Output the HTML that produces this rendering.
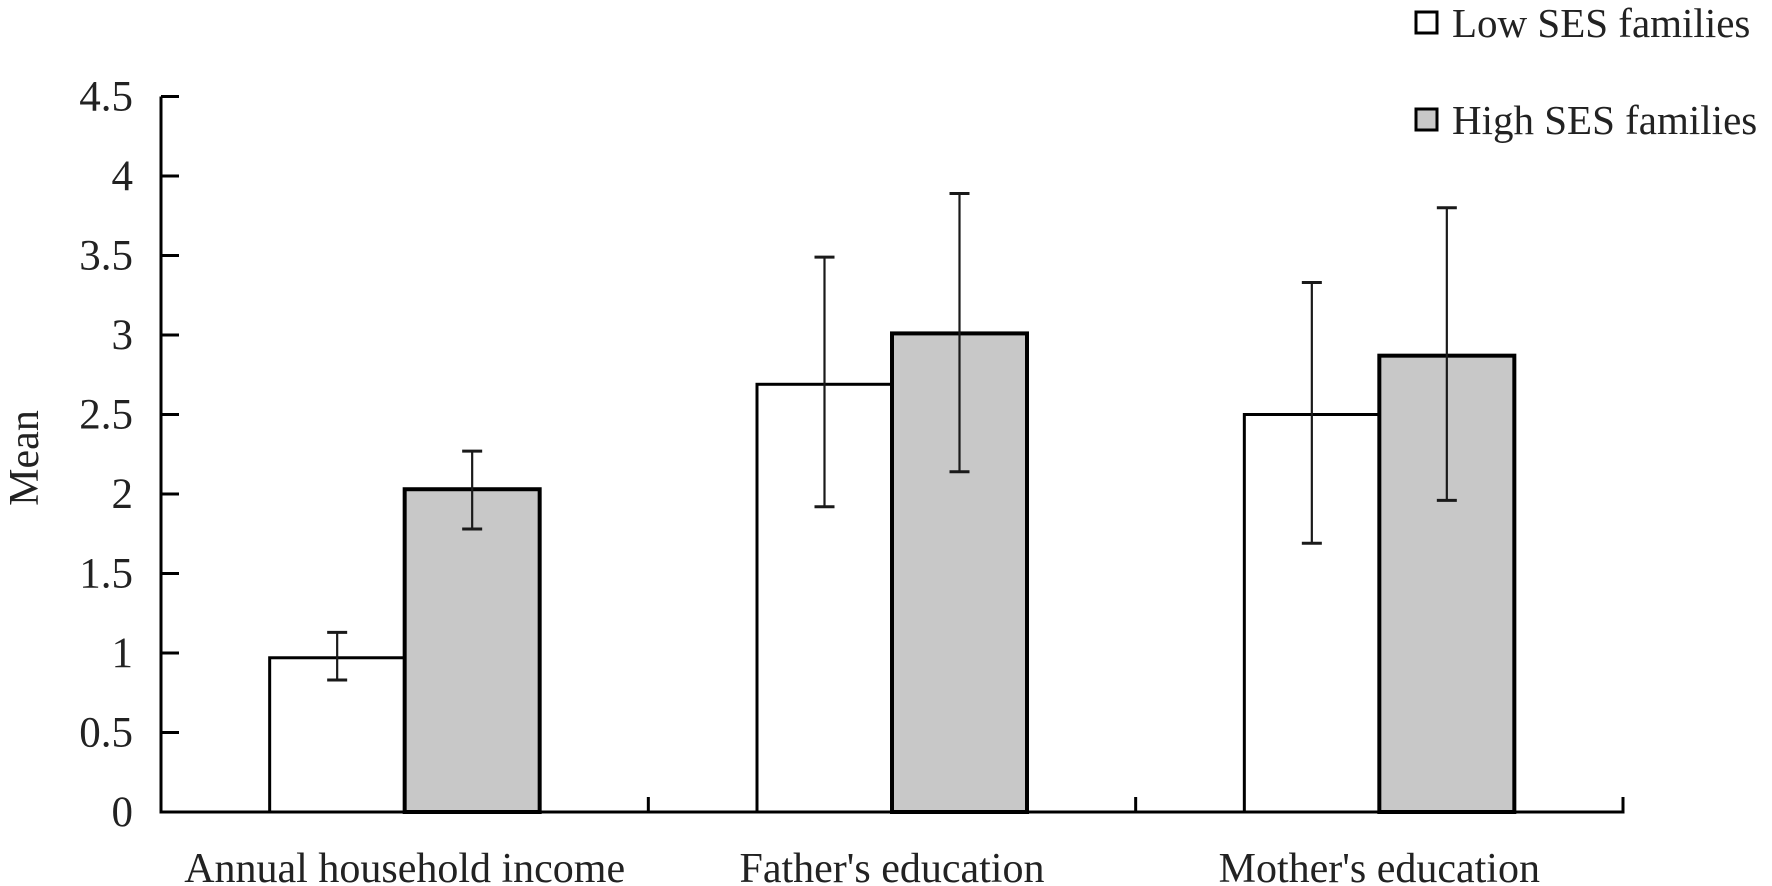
<!DOCTYPE html>
<html><head><meta charset="utf-8"><style>
html,body{margin:0;padding:0;background:#fff;}
svg{display:block;font-family:"Liberation Serif",serif;}
</style></head><body>
<svg id="chart" width="1772" height="886" viewBox="0 0 1772 886">
<g id="axes"></g><g id="bars"></g><g id="errs"></g>
<text transform="translate(38,458) rotate(-90)" text-anchor="middle" font-size="42" fill="#222">Mean</text>
<g>
 <rect x="1416" y="12" width="21" height="21" fill="#fff" stroke="#000" stroke-width="3"/>
 <text x="1452" y="37" font-size="41" fill="#222">Low SES families</text>
 <rect x="1416" y="109" width="21" height="21" fill="#c8c8c8" stroke="#000" stroke-width="3"/>
 <text x="1452" y="134" font-size="41" fill="#222">High SES families</text>
</g>
</svg>
<script>
const categories = ["Annual household income", "Father's education", "Mother's education"];
const lowValues = [0.97, 2.69, 2.50];
const highValues = [2.03, 3.01, 2.87];
const lowErrLow = [0.83, 1.92, 1.69];
const lowErrHigh = [1.13, 3.49, 3.33];
const highErrLow = [1.78, 2.14, 1.96];
const highErrHigh = [2.27, 3.89, 3.80];
const yTicks = [0, 0.5, 1, 1.5, 2, 2.5, 3, 3.5, 4, 4.5];
const yTickLabels = ["0", "0.5", "1", "1.5", "2", "2.5", "3", "3.5", "4", "4.5"];

const NS = "http://www.w3.org/2000/svg";
const X0 = 161, X1 = 1623, Y0 = 812, UNIT = 159;
const catW = (X1 - X0) / categories.length;
const barW = 135;
function y(v){ return Y0 - v * UNIT; }
function xc(i){ return X0 + catW * (i + 0.5); }
function mk(tag, attrs, parent){
  const e = document.createElementNS(NS, tag);
  for (const k in attrs) e.setAttribute(k, attrs[k]);
  parent.appendChild(e); return e;
}
const axes = document.getElementById('axes');
const bars = document.getElementById('bars');
const errs = document.getElementById('errs');

let yl = mk('line', {x1:X0, y1:y(4.5), x2:X0, y2:Y0+1.5, stroke:'#000', 'stroke-width':3}, axes);


let xl = mk('line', {x1:X0-1.5, y1:Y0, x2:X1+1.5, y2:Y0, stroke:'#000', 'stroke-width':3}, axes);



yTicks.forEach((t, i) => {
  const tk = mk('line', {x1:X0, y1:y(t), x2:X0+18, y2:y(t), stroke:'#000', 'stroke-width':3}, axes);
  
  
  const tl = mk('text', {x:133, y:y(t)+14, 'text-anchor':'end', 'font-size':43, fill:'#222'}, axes);
  tl.textContent = yTickLabels[i];
  
  
});
for (let i = 1; i <= categories.length; i++) {
  const xx = X0 + catW * i;
  const tk = mk('line', {x1:xx, y1:Y0, x2:xx, y2:Y0-15, stroke:'#000', 'stroke-width':3}, axes);
  
  
}
categories.forEach((c, i) => {
  const tl = mk('text', {x:xc(i), y:882, 'text-anchor':'middle', 'font-size':42, fill:'#222'}, axes);
  tl.textContent = c;
  
  

  const lb = mk('rect', {x:xc(i)-barW, y:y(lowValues[i]), width:barW, height:Y0-y(lowValues[i]), fill:'#fff', stroke:'#000', 'stroke-width':3}, bars);
  
  
  const hb = mk('rect', {x:xc(i), y:y(highValues[i]), width:barW, height:Y0-y(highValues[i]), fill:'#c8c8c8', stroke:'#000', 'stroke-width':4}, bars);
  
  

  [[xc(i)-barW/2, lowErrLow[i], lowErrHigh[i], 'low'], [xc(i)+barW/2, highErrLow[i], highErrHigh[i], 'high']].forEach(([ex, lo, hi, nm]) => {
    const g = mk('g', {stroke:'#1a1a1a', 'stroke-width':2.2}, errs);
    
    
    mk('line', {x1:ex, y1:y(lo), x2:ex, y2:y(hi)}, g);
    mk('line', {x1:ex-10, y1:y(lo), x2:ex+10, y2:y(lo), 'stroke-width':3}, g);
    mk('line', {x1:ex-10, y1:y(hi), x2:ex+10, y2:y(hi), 'stroke-width':3}, g);
  });
});
</script>
</body></html>
